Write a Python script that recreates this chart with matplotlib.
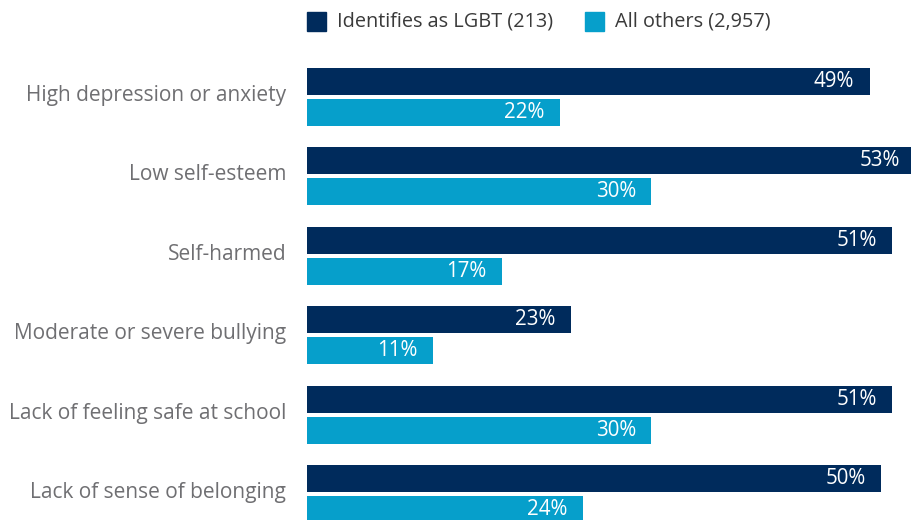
import matplotlib.pyplot as plt
from matplotlib.patches import Rectangle
import numpy as np

plt.rcParams['font.family'] = ['Open Sans', 'DejaVu Sans']

categories = [
    "High depression or anxiety",
    "Low self-esteem",
    "Self-harmed",
    "Moderate or severe bullying",
    "Lack of feeling safe at school",
    "Lack of sense of belonging",
]
lgbt = [49, 53, 51, 23, 51, 50]
others = [22, 30, 17, 11, 30, 24]
series_names = ["Identifies as LGBT (213)", "All others (2,957)"]

dark = "#002b5c"
light = "#069fcb"
label_grey = "#6f6f72"

fig = plt.figure(figsize=(9.12, 5.2), dpi=100)
ax = fig.add_axes([307 / 912, 0, 1 - 307 / 912, 1])

y = np.arange(len(categories))
off = 0.195
h = 0.34
ax.barh(y - off, lgbt, height=h, color=dark)
ax.barh(y + off, others, height=h, color=light)

ax.set_xlim(0, 52.7)
ax.set_ylim(5.327, -1.222)

# value labels inside the bar ends
for yi, v in zip(y, lgbt):
    ax.text(v - 1.35, yi - off, f"{v}%", color="white", fontsize=14.8,
            ha="right", va="center")
for yi, v in zip(y, others):
    ax.text(v - 1.35, yi + off, f"{v}%", color="white", fontsize=14.8,
            ha="right", va="center")

# category names sit a touch above the middle of each pair
ax.set_yticks(y - 0.05)
ax.set_yticklabels(categories, fontsize=15, color=label_grey)
ax.tick_params(axis="y", length=0, pad=15)
ax.set_xticks([])
for s in ax.spines.values():
    s.set_visible(False)

# legend across the top
for x0, name, c in [(307, series_names[0], dark), (585, series_names[1], light)]:
    fig.patches.append(Rectangle((x0 / 912, 1 - 31 / 520), 19 / 912, 19 / 520,
                                 transform=fig.transFigure, color=c))
    fig.text((x0 + 30) / 912, 1 - 22 / 520, name, fontsize=14.3,
             color="#3a3a3a", va="center", ha="left")

fig.savefig("out.png", dpi=100)
